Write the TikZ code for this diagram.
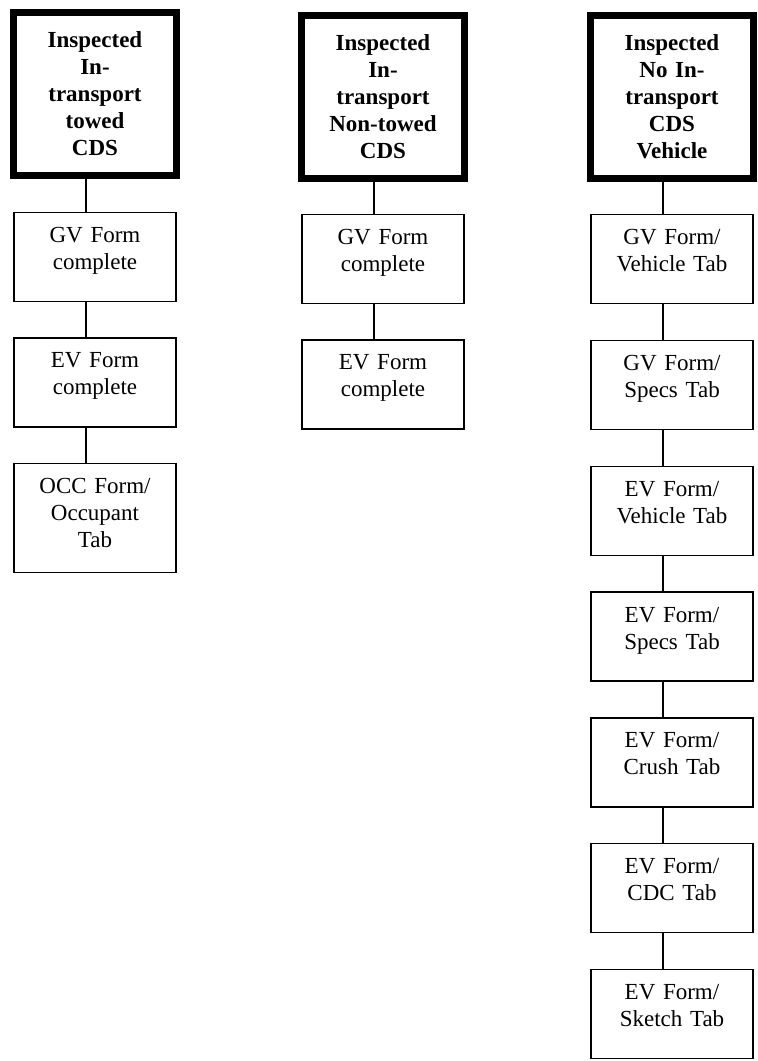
\documentclass[tikz,border=0pt]{standalone}
\usepackage{fontspec}
\setmainfont{Liberation Serif}
\usepackage{tikz}
\usetikzlibrary{positioning}

\begin{document}
\begin{tikzpicture}[x=1pt,y=-1pt,node distance=35.5pt,
 hd/.style={draw,line width=7pt,align=center,font=\fontsize{23}{27}\selectfont\bfseries,text width=150pt,minimum width=163pt,minimum height=163pt,inner sep=0pt},
 bx/.style={draw,line width=1.3pt,align=center,font=\fontsize{23}{27}\selectfont,text width=162pt,inner sep=0pt,text height=30pt,text depth=59pt},ln/.style={line width=1.3pt}]
\useasboundingbox (0,0) rectangle (758,1061);
% column 1
\node[hd] (h1) at (95,93.5) {Inspected\\In-\\transport\\towed\\CDS};
\node[bx,below=33pt of h1] (gv1) {GV Form\\complete};
\node[bx,below=of gv1] (ev1) {EV Form\\complete};
\node[bx,below=of ev1,text depth=79pt] (occ1) {OCC Form/\\Occupant\\Tab};
% column 2
\node[hd] (h2) at (383,96.5) {Inspected\\In-\\transport\\Non-towed\\CDS};
\node[bx,below=32pt of h2] (gv2) {GV Form\\complete};
\node[bx,below=of gv2] (ev2) {EV Form\\complete};
% column 3
\node[hd] (h3) at (672,97) {Inspected\\No In-\\transport\\CDS\\Vehicle};
\node[bx,below=32pt of h3] (gvveh) {GV Form/\\Vehicle Tab};
\node[bx,below=of gvveh] (gvspec) {GV Form/\\Specs Tab};
\node[bx,below=of gvspec] (evveh) {EV Form/\\Vehicle Tab};
\node[bx,below=of evveh] (evspec) {EV Form/\\Specs Tab};
\node[bx,below=of evspec] (evcrush) {EV Form/\\Crush Tab};
\node[bx,below=of evcrush] (evcdc) {EV Form/\\CDC Tab};
\node[bx,below=of evcdc] (evsketch) {EV Form/\\Sketch Tab};
\draw[ln] ([xshift=-9pt]h1.south)--([xshift=-9pt]gv1.north);\draw[ln] ([xshift=-9pt]gv1.south)--([xshift=-9pt]ev1.north);\draw[ln] ([xshift=-9pt]ev1.south)--([xshift=-9pt]occ1.north);
\draw[ln] ([xshift=-9pt]h2.south)--([xshift=-9pt]gv2.north);\draw[ln] ([xshift=-9pt]gv2.south)--([xshift=-9pt]ev2.north);
\draw[ln] ([xshift=-9pt]h3.south)--([xshift=-9pt]gvveh.north);\draw[ln] ([xshift=-9pt]gvveh.south)--([xshift=-9pt]gvspec.north);\draw[ln] ([xshift=-9pt]gvspec.south)--([xshift=-9pt]evveh.north);
\draw[ln] ([xshift=-9pt]evveh.south)--([xshift=-9pt]evspec.north);\draw[ln] ([xshift=-9pt]evspec.south)--([xshift=-9pt]evcrush.north);\draw[ln] ([xshift=-9pt]evcrush.south)--([xshift=-9pt]evcdc.north);
\draw[ln] ([xshift=-9pt]evcdc.south)--([xshift=-9pt]evsketch.north);
\end{tikzpicture}
\end{document}
